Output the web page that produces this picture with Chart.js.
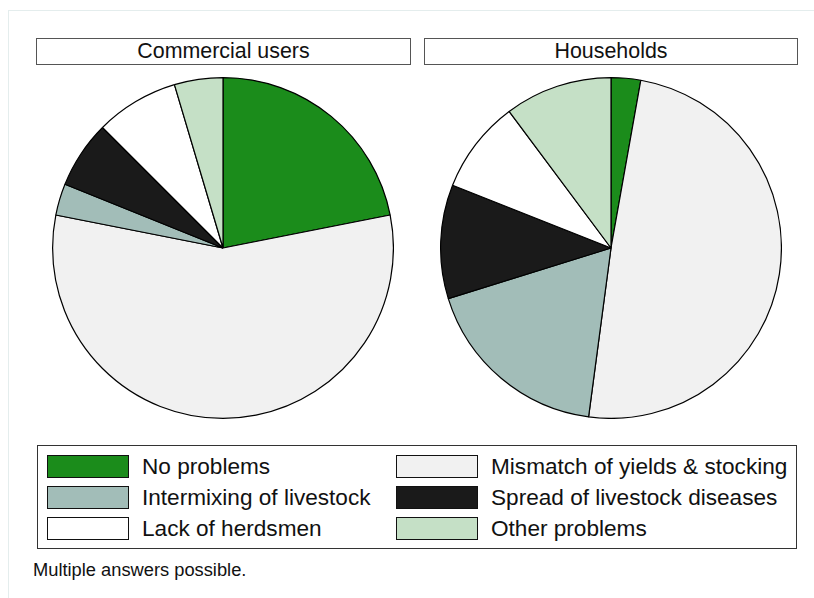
<!DOCTYPE html>
<html>
<head>
<meta charset="utf-8">
<script src="https://cdn.jsdelivr.net/npm/chart.js@4/dist/chart.umd.min.js"></script>
<style>
  body { margin: 0; width: 814px; height: 598px; background: #fff; overflow: hidden;
         font-family: "Liberation Sans", Arial, sans-serif; color: #111; position: relative; }
  .frame { position: absolute; left: 8px; top: 10px; width: 900px; height: 700px;
           border: 1px solid #e4eded; box-sizing: border-box; }
  .ptitle { position: absolute; top: 38px; height: 27px; border: 1px solid #555;
            box-sizing: border-box; font-size: 21.4px; line-height: 25px; text-align: center; }
  canvas { position: absolute; }
  #legend { position: absolute; left: 37px; top: 445px; width: 760px; height: 104px;
            border: 1px solid #333; box-sizing: border-box; }
  .item { position: absolute; height: 24px; font-size: 22.6px; line-height: 23px; }
  .sw { position: absolute; left: 0; top: 0; width: 82px; height: 23px;
        border: 1.5px solid #111; box-sizing: border-box; }
  .lbl { position: absolute; left: 95px; top: 0; white-space: nowrap; }
  .note { position: absolute; left: 33px; top: 559px; font-size: 18.3px; }
</style>
</head>
<body>
<div class="frame"></div>
<div class="ptitle" id="t0" style="left:36px;width:375px;"></div>
<div class="ptitle" id="t1" style="left:424px;width:374px;"></div>
<canvas id="pie0" width="342" height="342" style="left:52px;top:77px;"></canvas>
<canvas id="pie1" width="342" height="342" style="left:440px;top:77px;"></canvas>
<div id="legend"></div>
<div class="note">Multiple answers possible.</div>
<script>
// ── Data (shares in %) ────────────────────────────────────
const groups = ['Commercial users', 'Households'];
const categories = ['No problems', 'Mismatch of yields & stocking', 'Intermixing of livestock',
                    'Spread of livestock diseases', 'Lack of herdsmen', 'Other problems'];
const commercialUsers = [21.9, 56.2, 3.0, 6.4, 7.9, 4.6];
const households      = [2.8, 49.3, 18.1, 10.8, 8.8, 10.2];
const colors = ['#1b8c1b', '#f1f1f1', '#a2bdb8', '#1a1a1a', '#ffffff', '#c5e0c6'];

// ── Panel titles ───────────────────────────────────────────
groups.forEach((g, i) => { document.getElementById('t' + i).textContent = g; });

// ── Pies ───────────────────────────────────────────────────
function makePie(id, values) {
  new Chart(document.getElementById(id), {
    type: 'pie',
    data: {
      labels: categories,
      datasets: [{
        data: values,
        backgroundColor: colors,
        borderColor: '#000',
        borderWidth: 1.2,
      }]
    },
    options: {
      responsive: false,
      animation: false,
      layout: { padding: 0 },
      plugins: { legend: { display: false }, tooltip: { enabled: false } }
    }
  });
}
makePie('pie0', commercialUsers);
makePie('pie1', households);

// ── Legend: two columns, filled row by row ────────────────
const legend = document.getElementById('legend');
categories.forEach((c, i) => {
  const col = i % 2, row = Math.floor(i / 2);
  const it = document.createElement('div');
  it.className = 'item';
  it.style.left = (col ? 358 : 9) + 'px';
  it.style.top = (9 + row * 31) + 'px';
  it.innerHTML = '<div class="sw" style="background:' + colors[i] + '"></div><div class="lbl"></div>';
  it.querySelector('.lbl').textContent = c;
  legend.appendChild(it);
});
</script>
</body>
</html>
